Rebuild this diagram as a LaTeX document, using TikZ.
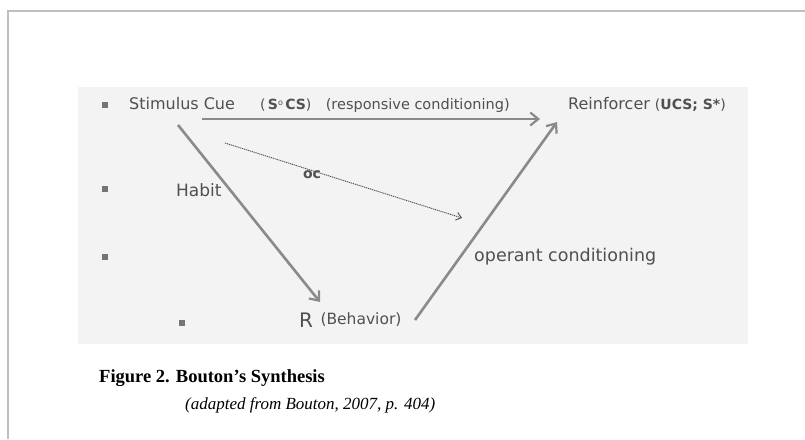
\documentclass[tikz,border=0pt]{standalone}
\usepackage{fontspec}
\setmainfont{Liberation Serif}
\newfontfamily\slidefont{DejaVu Sans}
\usetikzlibrary{arrows.meta,positioning}
\definecolor{sltext}{HTML}{505050}
\definecolor{slarrow}{HTML}{8A8A8A}
\definecolor{slpanel}{HTML}{F3F3F3}
\definecolor{slframe}{HTML}{BFBFBF}
\newcommand{\fsz}[1]{\fontsize{#1}{#1}\selectfont}

\begin{document}
\begin{tikzpicture}[x=1pt,y=-1pt,
      lbl/.style={inner sep=0pt,anchor=west,text=sltext,font=\slidefont\fsz{16}},
      bul/.style={fill=slarrow!85!black,minimum size=6pt,inner sep=0pt},
      arr/.style={-{Straight Barb[length=8pt,width=13pt,line width=2.2pt]},line width=2.6pt,draw=slarrow},
      dotarr/.style={-{Straight Barb[length=5pt,width=8pt]},line width=0.9pt,draw=sltext,dash pattern=on 1.2pt off 0.8pt},
      captxt/.style={inner sep=0pt,anchor=west,text=black}]
    \useasboundingbox (0,0) rectangle (805,439);
    % frame and slide panel
    \draw[slframe,line width=2pt] (8,439) -- (8,11) -- (805,11);
    \fill[slpanel] (78,87) rectangle (748,344);
    % bullets
    \node[bul] (b1) at (105,105) {};
    \node[bul] (b2) at (105,189) {};
    \node[bul] (b3) at (105,257) {};
    \node[bul] (b4) at (182,323) {};
    % labels
    \node[lbl] (cue) at (129,104) {Stimulus Cue};
    \node[lbl,font=\slidefont\fsz{14}] (cs) at (260,105)
      {(\,\textbf{S}\raisebox{4pt}{\fsz{8}o}\,\textbf{CS})};
    \node[lbl,font=\slidefont\fsz{14.5},right=14pt of cs] (resp) {(responsive conditioning)};
    \node[lbl] (rein) at (568,104) {Reinforcer \fsz{14}(\textbf{UCS; S*})};
    \node[lbl,font=\slidefont\fsz{17}] (habit) at (176,190) {Habit};
    \node[lbl,anchor=center,font=\slidefont\bfseries\fsz{14}] (oc) at (312,175) {oc};
    \node[lbl,font=\slidefont\fsz{17.5}] (oper) at (474,257) {operant conditioning};
    \node[lbl,font=\slidefont\fsz{20}] (r) at (299,320) {R};
    \node[lbl,font=\slidefont\fsz{15.5},right=7pt of r] (beh) {(Behavior)};
    % arrow ends
    \coordinate (rcfrom) at (202,119);
    \coordinate (rcto) at (540,119);
    \coordinate (cuefoot) at (178,125);
    \coordinate (rtop) at (320,302);
    \coordinate (ocfrom) at (225,143);
    \coordinate (octo) at (462,218);
    \coordinate (behend) at (415,320);
    \coordinate (reinfoot) at (557,122);
    % connectors
    \draw[arr] (rcfrom) -- (rcto);
    \draw[arr] (cuefoot) -- (rtop);
    \draw[dotarr] (ocfrom) -- (octo);
    \draw[arr] (behend) -- (reinfoot);
    % caption
    \node[captxt,font=\bfseries\fsz{18.5}] (fig) at (99,378) {Figure 2. Bouton’s Synthesis};
    \node[captxt,font=\itshape\fsz{17}] (src) at (185,405) {(adapted from Bouton, 2007, p. 404)};
  \end{tikzpicture}
\end{document}
